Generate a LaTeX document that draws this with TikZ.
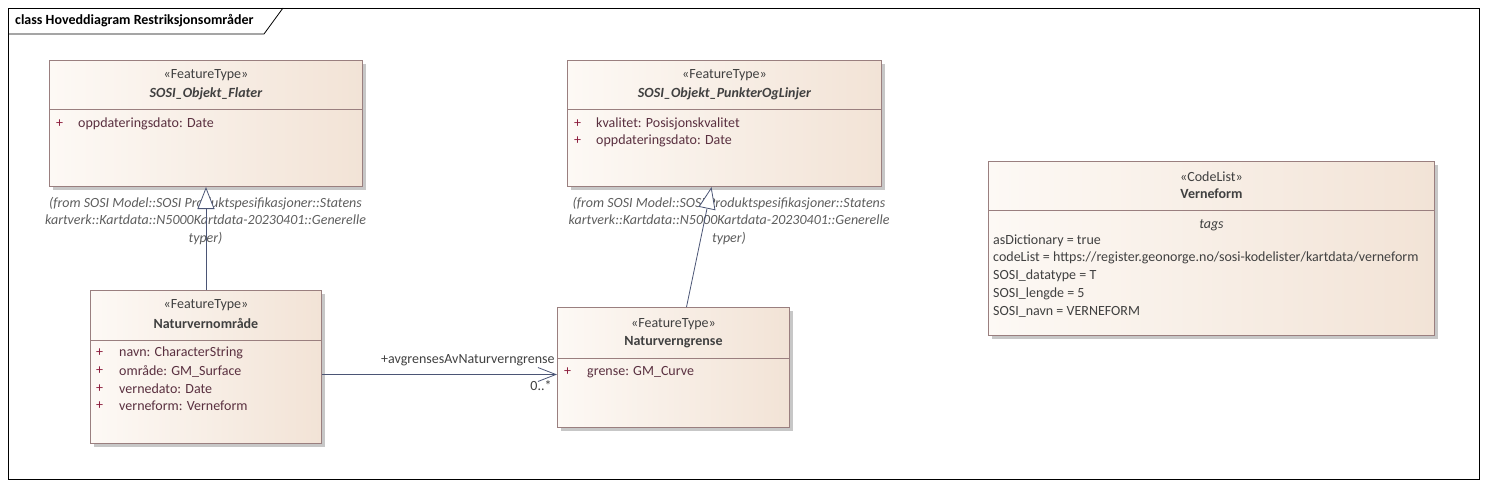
\documentclass[tikz,border=0pt]{standalone}
\usepackage{fontspec}
\setmainfont{Carlito}
\usetikzlibrary{arrows.meta}
\usetikzlibrary{shadows}

\definecolor{boxline}{HTML}{9A7F7F}
\definecolor{boxlight}{HTML}{FDF9F5}
\definecolor{boxdark}{HTML}{F2E3D6}
\definecolor{linkcol}{HTML}{4B5575}
\definecolor{pluscol}{HTML}{8C1C3C}
\definecolor{attrcol}{HTML}{5A3040}
\definecolor{textcol}{HTML}{404040}

\newcommand{\umlfont}{\fontsize{14}{16}\selectfont}

\tikzset{
  umlbox/.style={draw=boxline, line width=1pt, left color=boxlight, right color=boxdark,
    anchor=north west, inner sep=0pt,
    drop shadow={shadow xshift=3pt, shadow yshift=-3pt, fill=black!22, opacity=1}},
  stereo/.style={font=\umlfont, text=textcol, inner sep=0pt},
  cname/.style={font=\umlfont\bfseries, text=textcol, inner sep=0pt},
  attr/.style={font=\umlfont, text=attrcol, anchor=west, inner sep=0pt},
  plus/.style={font=\umlfont, text=pluscol, anchor=west, inner sep=0pt},
  fromnote/.style={font=\fontsize{14}{17.5}\selectfont\itshape, text=textcol!85,
    align=center, inner sep=0pt},
  divider/.style={draw=boxline, line width=0.8pt},
  genarrow/.style={draw=linkcol, line width=0.8pt,
    -{Triangle[open, length=22pt, width=17pt, fill=white]}},
  assocarrow/.style={draw=linkcol, line width=0.8pt,
    -{Straight Barb[length=18pt, width=14pt]}},
}

\begin{document}
\begin{tikzpicture}[x=1pt, y=-1pt]
\useasboundingbox (0,0) rectangle (1487,487); % fix the page size
% frame with its title tab
\draw[black, line width=0.8pt] (8,8) rectangle (1479,479);
\draw[black, line width=0.8pt] (8,34) -- (264,34) -- (283,8);
\node[anchor=west, inner sep=0pt, font=\umlfont\bfseries] (title) at (15,21)
  {class Hoveddiagram Restriksjonsområder};

% SOSI_Objekt_Flater
\node[umlbox, minimum width=313pt, minimum height=126pt] (flater) at (49,60) {};
\draw[divider] ([yshift=-49pt]flater.north west) -- ([yshift=-49pt]flater.north east);
\node[stereo] (flater-st) at ([yshift=-15pt]flater.north) {«FeatureType»};
\node[cname, font=\umlfont\bfseries\itshape] (flater-nm) at ([yshift=-34pt]flater.north) {SOSI\_Objekt\_Flater};
\node[plus] (flater-p1) at ([shift={(7pt,-64pt)}]flater.north west) {+};
\node[attr] (flater-a1) at ([shift={(29pt,-64pt)}]flater.north west) {oppdateringsdato: Date};
\node[fromnote] (flater-from) at (205.5,221)
  {(from SOSI Model::SOSI Produktspesifikasjoner::Statens\\kartverk::Kartdata::N5000Kartdata-20230401::Generelle\\typer)};

% SOSI_Objekt_PunkterOgLinjer
\node[umlbox, minimum width=314pt, minimum height=126pt] (punkter) at (567,60) {};
\draw[divider] ([yshift=-49pt]punkter.north west) -- ([yshift=-49pt]punkter.north east);
\node[stereo] (punkter-st) at ([yshift=-15pt]punkter.north) {«FeatureType»};
\node[cname, font=\umlfont\bfseries\itshape] (punkter-nm) at ([yshift=-34pt]punkter.north) {SOSI\_Objekt\_PunkterOgLinjer};
\node[plus] (punkter-p1) at ([shift={(7pt,-64pt)}]punkter.north west) {+};
\node[attr] (punkter-a1) at ([shift={(29pt,-64pt)}]punkter.north west) {kvalitet: Posisjonskvalitet};
\node[plus] (punkter-p2) at ([shift={(7pt,-81pt)}]punkter.north west) {+};
\node[attr] (punkter-a2) at ([shift={(29pt,-81pt)}]punkter.north west) {oppdateringsdato: Date};
\node[fromnote] (punkter-from) at (729,221)
  {(from SOSI Model::SOSI Produktspesifikasjoner::Statens\\kartverk::Kartdata::N5000Kartdata-20230401::Generelle\\typer)};

% Verneform
\node[umlbox, minimum width=446pt, minimum height=174pt] (verneform) at (988,161) {};
\draw[divider] ([yshift=-49pt]verneform.north west) -- ([yshift=-49pt]verneform.north east);
\node[stereo] (verneform-st) at ([yshift=-16pt]verneform.north) {«CodeList»};
\node[cname] (verneform-nm) at ([yshift=-33pt]verneform.north) {Verneform};
\node[stereo, font=\umlfont\itshape] (verneform-tags) at ([yshift=-64pt]verneform.north) {tags};
\node[attr, text=textcol] (verneform-t1) at ([shift={(5pt,-80pt)}]verneform.north west) {asDictionary = true};
\node[attr, text=textcol] (verneform-t2) at ([shift={(5pt,-97pt)}]verneform.north west) {codeList = https://register.geonorge.no/sosi-kodelister/kartdata/verneform};
\node[attr, text=textcol] (verneform-t3) at ([shift={(5pt,-115pt)}]verneform.north west) {SOSI\_datatype = T};
\node[attr, text=textcol] (verneform-t4) at ([shift={(5pt,-133pt)}]verneform.north west) {SOSI\_lengde = 5};
\node[attr, text=textcol] (verneform-t5) at ([shift={(5pt,-151pt)}]verneform.north west) {SOSI\_navn = VERNEFORM};

% Naturvernområde
\node[umlbox, minimum width=231pt, minimum height=153pt] (omraade) at (90,290) {};
\draw[divider] ([yshift=-50pt]omraade.north west) -- ([yshift=-50pt]omraade.north east);
\node[stereo] (omraade-st) at ([yshift=-15pt]omraade.north) {«FeatureType»};
\node[cname] (omraade-nm) at ([yshift=-33pt]omraade.north) {Naturvernområde};
\node[plus] (omraade-p1) at ([shift={(6pt,-63pt)}]omraade.north west) {+};
\node[attr] (omraade-a1) at ([shift={(29pt,-63pt)}]omraade.north west) {navn: CharacterString};
\node[plus] (omraade-p2) at ([shift={(6pt,-81pt)}]omraade.north west) {+};
\node[attr] (omraade-a2) at ([shift={(29pt,-81pt)}]omraade.north west) {område: GM\_Surface};
\node[plus] (omraade-p3) at ([shift={(6pt,-99pt)}]omraade.north west) {+};
\node[attr] (omraade-a3) at ([shift={(29pt,-99pt)}]omraade.north west) {vernedato: Date};
\node[plus] (omraade-p4) at ([shift={(6pt,-116pt)}]omraade.north west) {+};
\node[attr] (omraade-a4) at ([shift={(29pt,-116pt)}]omraade.north west) {verneform: Verneform};

% Naturverngrense
\node[umlbox, minimum width=232pt, minimum height=120pt] (grense) at (557,307) {};
\draw[divider] ([yshift=-51pt]grense.north west) -- ([yshift=-51pt]grense.north east);
\node[stereo] (grense-st) at ([yshift=-17pt]grense.north) {«FeatureType»};
\node[cname] (grense-nm) at ([yshift=-35pt]grense.north) {Naturverngrense};
\node[plus] (grense-p1) at ([shift={(7pt,-65pt)}]grense.north west) {+};
\node[attr] (grense-a1) at ([shift={(30pt,-65pt)}]grense.north west) {grense: GM\_Curve};

% connectors
\draw[genarrow] (omraade.north) -- (flater.south);
\draw[genarrow] ([xshift=13pt]grense.north) -- ([xshift=-13pt]punkter.south);
\draw[assocarrow] ([yshift=-7.5pt]omraade.east) -- ([yshift=-7pt]grense.west)
  node[pos=1, anchor=south east, xshift=-2pt, yshift=8pt, inner sep=0pt, text=textcol,
       font=\umlfont] (role) {+avgrensesAvNaturverngrense}
  node[pos=1, anchor=north east, xshift=-5pt, yshift=-6pt, inner sep=0pt, text=textcol,
       font=\umlfont] (mult) {0..*};
\end{tikzpicture}
\end{document}
